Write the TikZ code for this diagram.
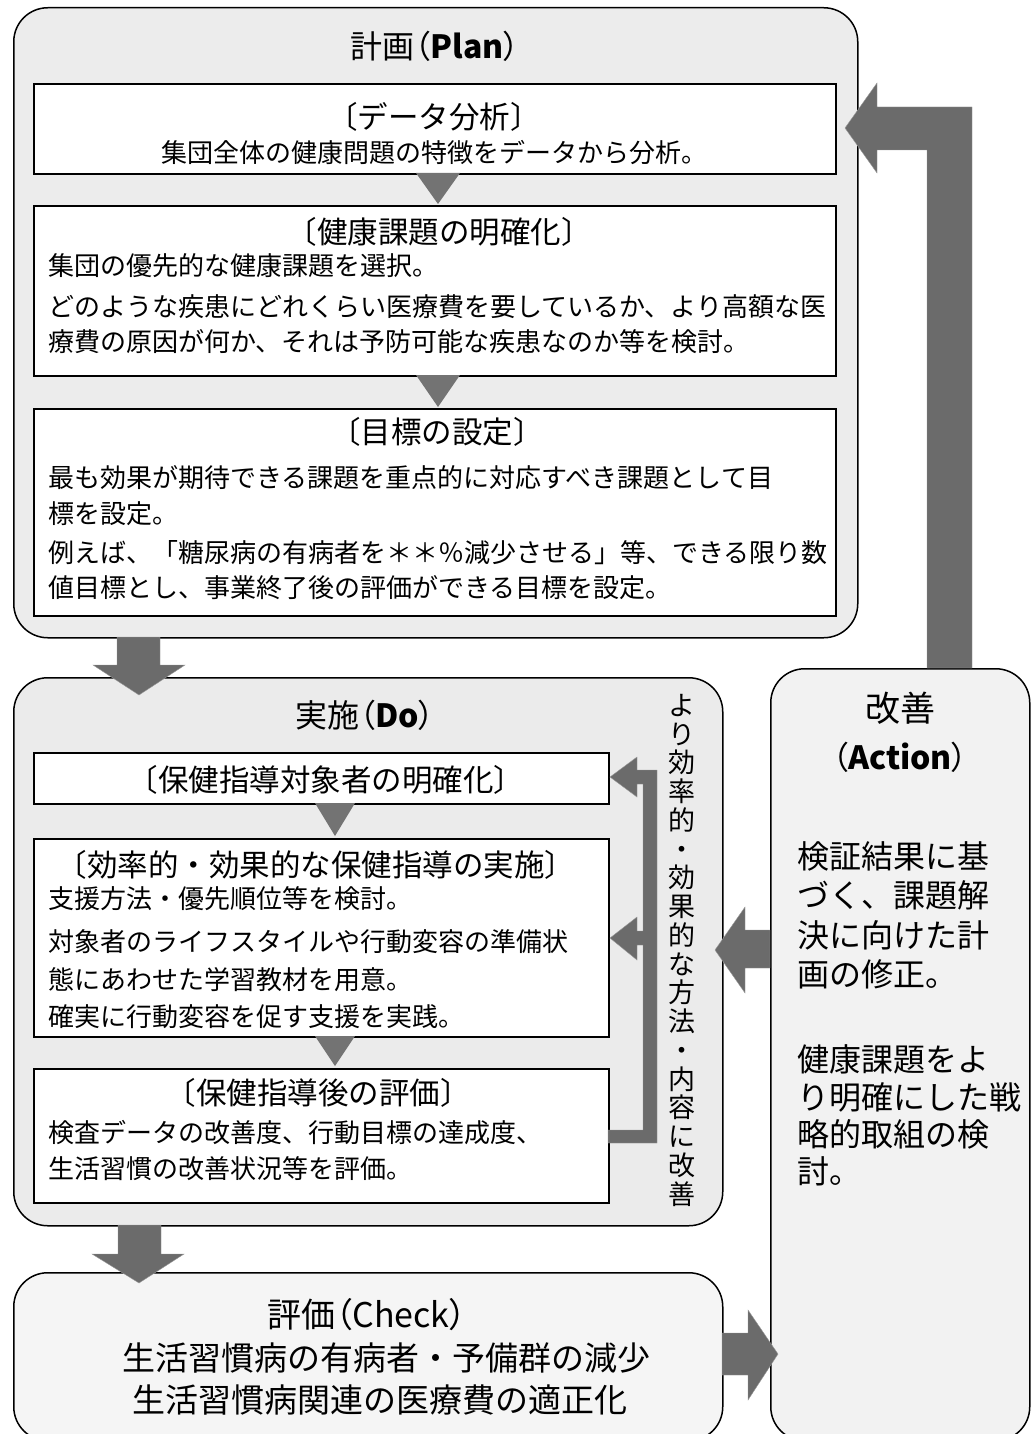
\documentclass[tikz,border=0pt]{standalone}
\usepackage{fontspec}
\setmainfont{Noto Sans CJK JP}
\newfontfamily\jpp[RawFeature=+palt]{Noto Sans CJK JP}
\tikzset{
  outerbox/.style={draw=black, line width=1.5pt, rounded corners=34pt, anchor=north west, inner sep=0pt},
  innerbox/.style={draw=black, line width=1.6pt, fill=white, anchor=north west, inner sep=0pt},
  blockarrow/.style={fill=black!58, draw=black!40, line width=0.4pt},
  tri/.style={fill=black!55},
  body/.style={font=\fontsize{26}{30}\selectfont, inner sep=0pt, anchor=base west},
  bodyc/.style={font=\fontsize{26}{30}\selectfont, inner sep=0pt, anchor=base},
  sub/.style={font=\fontsize{30.5}{34}\selectfont, inner sep=0pt, anchor=base},
  head/.style={font=\jpp\fontsize{32}{36}\selectfont, inner sep=0pt, anchor=base},
  actb/.style={font=\fontsize{32}{36}\selectfont, inner sep=0pt, anchor=base west},
  chk/.style={font=\fontsize{33}{36}\selectfont, inner sep=0pt, anchor=base},
  vchar/.style={font=\fontsize{27}{30}\selectfont, inner sep=0pt, anchor=base},
}
\begin{document}
\begin{tikzpicture}[x=1pt,y=-1pt]
\useasboundingbox (0,0) rectangle (1032,1434);
\clip (0,0) rectangle (1032,1434);

% ---------- outer boxes ----------
\node[outerbox, fill=gray!15, minimum width=844pt, minimum height=630pt] (plan) at (13,7) {};
\node[outerbox, fill=gray!16, minimum width=709pt, minimum height=548pt] (do) at (13,677) {};
\node[outerbox, fill=gray!8, minimum width=709pt, minimum height=168pt] (check) at (13,1272) {};
\node[outerbox, fill=gray!10, minimum width=259pt, minimum height=772pt] (action) at (770,668) {};

% ---------- Plan ----------
\node[head] (plantitle) at (435,59) {計画（\textbf{Plan}）};
\node[innerbox, minimum width=802pt, minimum height=90pt] (b1) at (33,83) {};
\node[innerbox, minimum width=802pt, minimum height=170pt] (b2) at (33,205) {};
\node[innerbox, minimum width=802pt, minimum height=207pt] (b3) at (33,408) {};
\fill[tri] (416,173) -- (460,173) -- (438,204) -- cycle;
\fill[tri] (416,375) -- (460,375) -- (438,407) -- cycle;

\node[sub] (b1t) at (434,128.5) {〔データ分析〕};
\node[bodyc] (b1a) at (434,163) {集団全体の健康問題の特徴をデータから分析。};

\node[sub] (b2t) at (439,243.5) {〔健康課題の明確化〕};
\node[body] (b2a) at (48,275) {集団の優先的な健康課題を選択。};
\node[body] (b2b) at (48,316) {どのような疾患にどれくらい医療費を要しているか、より高額な医};
\node[body] (b2c) at (48,351) {療費の原因が何か、それは予防可能な疾患なのか等を検討。};

\node[sub] (b3t) at (437,443.5) {〔目標の設定〕};
\node[body] (b3a) at (48,487) {最も効果が期待できる課題を重点的に対応すべき課題として目};
\node[body] (b3b) at (48,523) {標を設定。};
\node[body] (b3c) at (48,562) {例えば、「糖尿病の有病者を＊＊％減少させる」等、できる限り数};
\node[body] (b3d) at (48,597) {値目標とし、事業終了後の評価ができる目標を設定。};

% ---------- Do ----------
\node[head] (dotitle) at (365,727) {実施（\textbf{Do}）};
\node[innerbox, minimum width=575pt, minimum height=51pt] (d1) at (33,752) {};
\node[innerbox, minimum width=575pt, minimum height=198pt] (d2) at (33,838) {};
\node[innerbox, minimum width=575pt, minimum height=134pt] (d3) at (33,1068) {};
\fill[tri] (315,803) -- (355,803) -- (335,836) -- cycle;
\fill[tri] (315,1036) -- (355,1036) -- (335,1066) -- cycle;

\node[sub] (d1t) at (326,791.5) {〔保健指導対象者の明確化〕};
\node[sub] (d2t) at (316,876.5) {〔効率的・効果的な保健指導の実施〕};
\node[body] (d2a) at (48,908) {支援方法・優先順位等を検討。};
\node[body] (d2b) at (48,951) {対象者のライフスタイルや行動変容の準備状};
\node[body] (d2c) at (48,989) {態にあわせた学習教材を用意。};
\node[body] (d2d) at (48,1026) {確実に行動変容を促す支援を実践。};
\node[sub] (d3t) at (318,1104.5) {〔保健指導後の評価〕};
\node[body] (d3a) at (48,1142) {検査データの改善度、行動目標の達成度、};
\node[body] (d3b) at (48,1178) {生活習慣の改善状況等を評価。};

% feedback loop inside Do
\fill[blockarrow] (608,1130) -- (643,1130) -- (643,945) -- (637,945) -- (637,960)
  -- (610,938) -- (637,917) -- (637,931) -- (643,931) -- (643,784) -- (637,784)
  -- (637,797) -- (610,777) -- (637,757) -- (637,770) -- (657,770) -- (657,1143)
  -- (608,1143) -- cycle;

\foreach \c [count=\i] in {よ,り,効,率,的,・,効,果,的,な,方,法,・,内,容,に,改,善}
  \node[vchar] (v\i) at (682,686.5+\i*28.76) {\c};

% ---------- Action ----------
\node[font=\fontsize{35}{38}\selectfont, inner sep=0pt, anchor=base] (acttitle) at (900,721) {改善};
\node[head] (actsub) at (900,769.5) {（\textbf{Action}）};
\node[actb] (a1) at (797,868) {検証結果に基};
\node[actb] (a2) at (797,907) {づく、課題解};
\node[actb] (a3) at (797,947) {決に向けた計};
\node[actb] (a4) at (797,986) {画の修正。};
\node[actb] (a5) at (797,1071) {健康課題をよ};
\node[actb] (a6) at (797,1109) {り明確にした戦};
\node[actb] (a7) at (797,1146) {略的取組の検};
\node[actb] (a8) at (797,1183) {討。};

% ---------- Check ----------
\node[font=\jpp\fontsize{34}{38}\selectfont, inner sep=0pt, anchor=base] (chktitle) at (367,1327) {評価（Check）};
\node[chk] (c1) at (386,1370.5) {生活習慣病の有病者・予備群の減少};
\node[chk] (c2) at (380,1412.5) {生活習慣病関連の医療費の適正化};

% ---------- block arrows between stages ----------
% Plan -> Do
\fill[blockarrow] (117,637) -- (160,637) -- (160,665) -- (185,665) -- (139,695)
  -- (93,665) -- (117,665) -- cycle;
% Do -> Check
\fill[blockarrow] (118,1225) -- (161,1225) -- (161,1254) -- (184,1254) -- (139,1283)
  -- (92,1254) -- (118,1254) -- cycle;
% Check -> Action
\fill[blockarrow] (722,1333) -- (748,1333) -- (748,1310) -- (778,1354) -- (748,1400)
  -- (748,1375) -- (722,1375) -- cycle;
% Action -> Do
\fill[blockarrow] (770,930) -- (745,930) -- (745,907) -- (715,950) -- (745,993)
  -- (745,968) -- (770,968) -- cycle;
% Action -> Plan
\fill[blockarrow] (927,668) -- (927,150) -- (877,150) -- (877,173) -- (845,128)
  -- (877,83) -- (877,107) -- (972,107) -- (972,668) -- cycle;
\end{tikzpicture}
\end{document}
